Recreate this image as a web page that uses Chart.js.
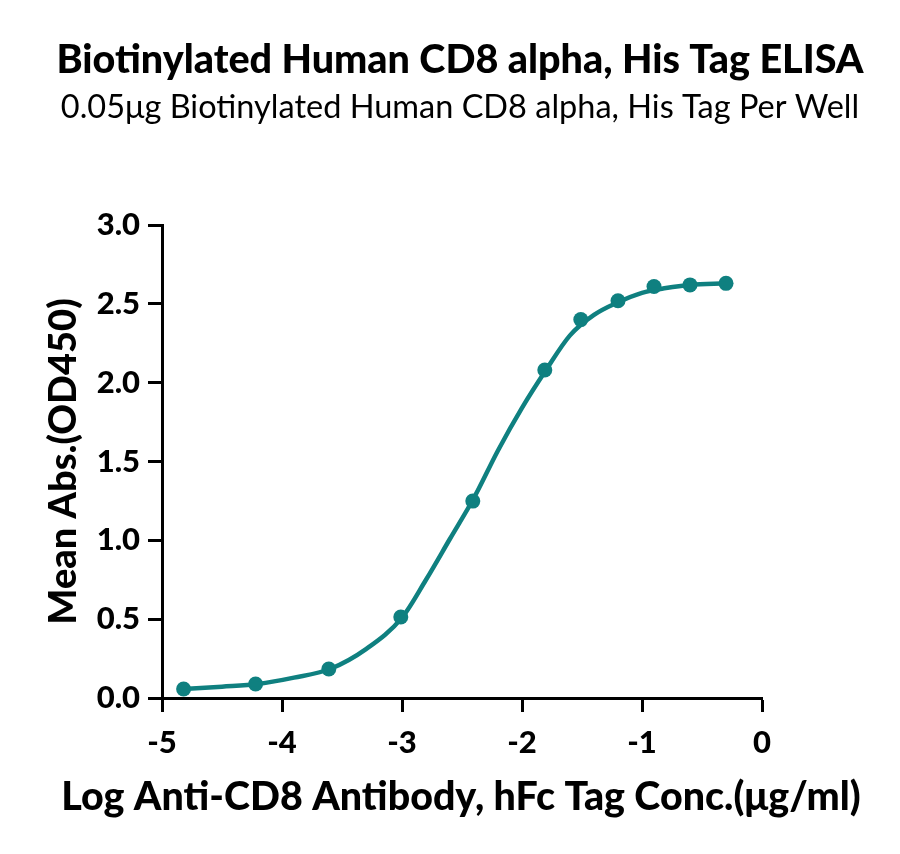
<!DOCTYPE html>
<html>
<head>
<meta charset="utf-8">
<script src="https://cdn.jsdelivr.net/npm/chart.js@4.4.1/dist/chart.umd.min.js"></script>
<style>
  html, body { margin: 0; padding: 0; background: #fff; }
  #wrap { width: 900px; height: 854px; position: relative; }
</style>
</head>
<body>
<div id="wrap"><canvas id="elisa"></canvas></div>
<script>
// data
const titleText = 'Biotinylated Human CD8 alpha, His Tag ELISA'
const subtitleText = '0.05μg Biotinylated Human CD8 alpha, His Tag Per Well'
const xTitle = 'Log Anti-CD8 Antibody, hFc Tag Conc.(μg/ml)'
const yTitle = 'Mean Abs.(OD450)'

// measured points
const logConc = [-4.82, -4.22, -3.61, -3.01, -2.41, -1.81, -1.51, -1.20, -0.90, -0.60, -0.30]
const meanAbs = [0.057, 0.089, 0.184, 0.514, 1.249, 2.08, 2.40, 2.52, 2.61, 2.62, 2.63]

// fitted curve
const curveX = [-4.82, -4.5, -4.2, -3.9, -3.6, -3.3, -3.0, -2.8, -2.6, -2.4, -2.2, -2.0, -1.8, -1.6, -1.4, -1.2, -1.0, -0.8, -0.6, -0.3]
const curveY = [0.057, 0.072, 0.089, 0.129, 0.184, 0.31, 0.51, 0.75, 1.01, 1.27, 1.57, 1.84, 2.08, 2.30, 2.43, 2.51, 2.57, 2.60, 2.62, 2.63]

const xTicks = [-5, -4, -3, -2, -1, 0]
const yTicks = [0, 0.5, 1.0, 1.5, 2.0, 2.5, 3.0]

const TEAL = '#0f8080'
const FONT = 'Lato, "Noto Sans", sans-serif'
const HEAVY = '900'

function pairs(xs, ys){ return xs.map((x, i) => ({x: x, y: ys[i]})) }

// titles drawn on top of the canvas (x title is wider than the axis, so not the scale title)
const headings = {
  id: 'headings',
  afterDraw(chart) {
    const ctx = chart.ctx
    ctx.save()
    ctx.fillStyle = '#000'
    ctx.textAlign = 'center'
    ctx.textBaseline = 'alphabetic'
    ctx.font = HEAVY + ' 39.5px ' + FONT
    ctx.fillText(titleText, 460, 73)
    ctx.font = '32.5px ' + FONT
    ctx.fillText(subtitleText, 460, 118)
    ctx.font = HEAVY + ' 39.4px ' + FONT
    ctx.fillText(xTitle, 461, 810)
    ctx.restore()
  }
}

const axisGrid = {
  drawOnChartArea: false,
  drawTicks: true,
  tickLength: 14,
  tickWidth: 3,
  tickColor: '#000'
}

new Chart(document.getElementById('elisa').getContext('2d'), {
  type: 'scatter',
  data: {
    datasets: [
      {
        label: 'fit',
        data: pairs(curveX, curveY),
        showLine: true,
        borderColor: TEAL,
        borderWidth: 4.5,
        pointRadius: 0,
        fill: false,
        cubicInterpolationMode: 'monotone'
      },
      {
        label: 'data',
        data: pairs(logConc, meanAbs),
        showLine: false,
        pointRadius: 7.5,
        pointBackgroundColor: TEAL,
        pointBorderColor: TEAL,
        pointBorderWidth: 0
      }
    ]
  },
  options: {
    responsive: true,
    maintainAspectRatio: false,
    animation: false,
    layout: { padding: { top: 225, right: 138, bottom: 0, left: 0 } },
    plugins: {
      legend: { display: false },
      tooltip: { enabled: false }
    },
    scales: {
      x: {
        type: 'linear',
        min: -5,
        max: 0,
        afterBuildTicks: s => { s.ticks = xTicks.map(v => ({value: v})) },
        afterFit: s => { s.height = 156 },
        border: { display: true, color: '#000', width: 3 },
        grid: axisGrid,
        ticks: {
          color: '#000',
          padding: 12,
          font: { family: FONT, size: 31, weight: HEAVY },
          callback: v => String(v)
        },
        title: { display: false }
      },
      y: {
        min: 0,
        max: 3,
        afterBuildTicks: s => { s.ticks = yTicks.map(v => ({value: v})) },
        afterFit: s => { s.width = 162 },
        border: { display: true, color: '#000', width: 3 },
        grid: axisGrid,
        ticks: {
          color: '#000',
          padding: 8,
          font: { family: FONT, size: 31, weight: HEAVY },
          callback: v => Number(v).toFixed(1)
        },
        title: {
          display: true,
          text: yTitle,
          color: '#000',
          font: { family: FONT, size: 38, weight: HEAVY },
          padding: { top: 41, bottom: 0 }
        }
      }
    }
  },
  plugins: [headings]
})
</script>
</body>
</html>
